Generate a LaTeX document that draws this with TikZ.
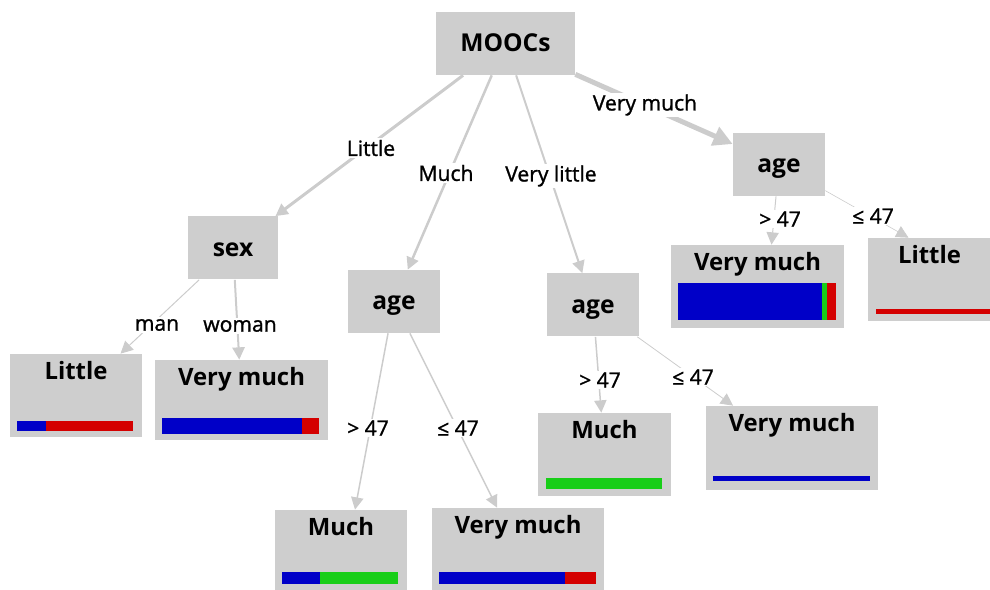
\documentclass[tikz,border=0pt]{standalone}
\usepackage{fontspec}
\setmainfont{Open Sans}
\newfontfamily\elabelfont[FakeBold=1.2]{Open Sans}
\usetikzlibrary{arrows.meta}
\definecolor{boxgray}{RGB}{206,206,206}
\definecolor{edgegray}{RGB}{204,204,204}
\definecolor{barblue}{RGB}{0,0,200}
\definecolor{bargreen}{RGB}{24,206,24}
\definecolor{barred}{RGB}{212,0,0}
\newlength\px
\setlength\px{0.02cm}

\begin{document}
\begin{tikzpicture}[x=0.02cm,y=-0.02cm,
  split/.style={fill=boxgray,inner sep=0pt,minimum height=63\px,text height=9.5pt,text depth=0pt,font=\bfseries\fontsize{14}{16}\selectfont},
  leaf/.style={fill=boxgray,inner sep=0pt},
  leaftext/.style={anchor=base,inner sep=0pt,font=\bfseries\fontsize{13.6}{16}\selectfont},
  branch/.style={draw=edgegray,-{Triangle[length=7pt,width=7pt]}},
  elabel/.style={fill=white,inner sep=1pt,font=\elabelfont\fontsize{12}{14}\selectfont}]
\useasboundingbox (0,0) rectangle (990,590);

\node[split,minimum width=139\px] (moocs) at (505.5,43.5) {MOOCs};
\node[split,minimum width=90\px] (sex) at (233,248) {sex};
\node[split,minimum width=92\px] (ageM) at (394,301.5) {age};
\node[split,minimum width=92\px] (ageL) at (593,305) {age};
\node[split,minimum width=92\px] (ageVM) at (779,164.5) {age};

\node[leaf,minimum width=132\px,minimum height=83\px] (littleL) at (76,395.5) {};
\node[leaf,minimum width=173\px,minimum height=80\px] (vmL) at (241.5,400) {};
\node[leaf,minimum width=132\px,minimum height=83\px] (muchB) at (341,551.5) {};
\node[leaf,minimum width=172\px,minimum height=83\px] (vmB) at (518,549.5) {};
\node[leaf,minimum width=133\px,minimum height=83\px] (muchR) at (604.5,454.5) {};
\node[leaf,minimum width=172\px,minimum height=84\px] (vmR2) at (792,448) {};
\node[leaf,minimum width=173\px,minimum height=83\px] (vmR) at (757.5,286.5) {};
\node[leaf,minimum width=123\px,minimum height=83\px] (littleR) at (929.5,279.5) {};

\node[leaftext] (littleLt) at ([yshift=-26\px]littleL.north) {Little};
\node[leaftext] (vmLt) at ([yshift=-26\px]vmL.north) {Very much};
\node[leaftext] (muchBt) at ([yshift=-26\px]muchB.north) {Much};
\node[leaftext] (vmBt) at ([yshift=-26\px]vmB.north) {Very much};
\node[leaftext] (muchRt) at ([yshift=-26\px]muchR.north) {Much};
\node[leaftext] (vmR2t) at ([yshift=-26\px]vmR2.north) {Very much};
\node[leaftext] (vmRt) at ([yshift=-26\px]vmR.north) {Very much};
\node[leaftext] (littleRt) at ([yshift=-26\px]littleR.north) {Little};

\fill[barblue] (17,421) rectangle (46,431);
\fill[barred] (46,421) rectangle (133,431);
\fill[barblue] (162,418) rectangle (302,434);
\fill[barred] (302,418) rectangle (319,434);
\fill[barblue] (282,572) rectangle (320,584);
\fill[bargreen] (320,572) rectangle (398,584);
\fill[barblue] (439,572) rectangle (565,584);
\fill[barred] (565,572) rectangle (596,584);
\fill[bargreen] (546,478) rectangle (662,489);
\fill[barblue] (713,476) rectangle (870,481);
\fill[barblue] (678,283) rectangle (822,320);
\fill[bargreen] (822,283) rectangle (827,320);
\fill[barred] (827,283) rectangle (836,320);
\fill[barred] (876,309) rectangle (991,314);

\draw[branch,line width=3\px] (moocs) -- (sex);
\draw[branch,line width=2.5\px] (moocs) -- (ageM);
\draw[branch,line width=2\px] (moocs) -- (ageL);
\draw[branch,line width=5\px,-{Triangle[length=11pt,width=11pt]}] (moocs) -- (ageVM);
\draw[branch,line width=1\px] (sex) -- (littleL);
\draw[branch,line width=2\px] (sex) -- (vmL);
\draw[branch,line width=1.5\px] (ageM) -- ([xshift=14\px]muchB.north);
\draw[branch,line width=1.5\px] (ageM) -- (vmB);
\draw[branch,line width=1.5\px] (ageL) -- (muchR);
\draw[branch,line width=0.8\px] (ageL) -- (vmR2);
\draw[branch,line width=1\px] (ageVM) -- ([xshift=14\px]vmR.north);
\draw[branch,line width=0.6\px] (ageVM) -- ([xshift=-21\px]littleR.north);

\node[elabel] (eLittle) at (371,148) {Little};
\node[elabel] (eMuch) at (446,173) {Much};
\node[elabel] (eVlittle) at (551,176) {Very little};
\node[elabel] (eVmuch) at (645,105) {Very much};
\node[elabel] (eMan) at (157,325) {man};
\node[elabel] (eWoman) at (240,326) {woman};
\node[elabel] (eGtM) at (368,428) {> 47};
\node[elabel] (eLeM) at (458,428) {≤ 47};
\node[elabel] (eGtL) at (600,380) {> 47};
\node[elabel] (eLeL) at (693,377) {≤ 47};
\node[elabel] (eGtVM) at (780,219) {> 47};
\node[elabel] (eLeVM) at (873,216) {≤ 47};
\end{tikzpicture}
\end{document}
